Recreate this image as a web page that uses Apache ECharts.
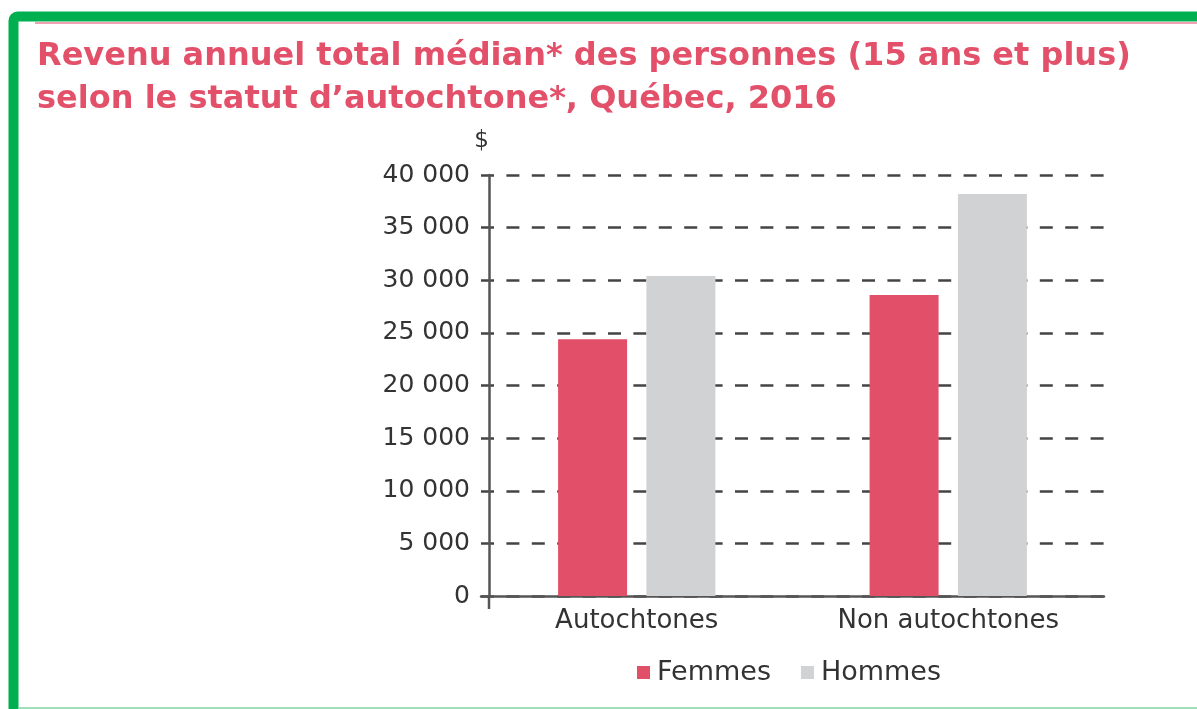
<!DOCTYPE html>
<html>
<head>
<meta charset="utf-8">
<script src="https://cdn.jsdelivr.net/npm/echarts@6/dist/echarts.min.js"></script>
<style>
html,body{margin:0;padding:0;background:#fff;}
#chart{width:1197px;height:709px;}
</style>
</head>
<body>
<div id="chart"></div>
<script>
const titleLines = ["Revenu annuel total médian* des personnes (15 ans et plus)", "selon le statut d\u2019autochtone*, Québec, 2016"];
const categories = ["Autochtones", "Non autochtones"];
const seriesNames = ["Femmes", "Hommes"];
const femmes = [24400, 28600];
const hommes = [30400, 38200];
const yTicks = [0, 5000, 10000, 15000, 20000, 25000, 30000, 35000, 40000];
const yUnit = "$";

const FONT = "'DejaVu Sans', sans-serif";
const chart = echarts.init(document.getElementById('chart'), null, {renderer: 'canvas'});

function fmt(v){ return String(v).replace(/\B(?=(\d{3})+(?!\d))/g, ' '); }

const option = {
  backgroundColor: '#ffffff',
  animation: false,
  title: {
    text: titleLines.join('\n'),
    left: 32, top: 30,
    textStyle: {color: '#e2506a', fontFamily: FONT, fontSize: 32, fontWeight: 'bold', lineHeight: 43}
  },
  graphic: [
    {type: 'rect', shape: {x: 13.5, y: 16.5, width: 1300, height: 900, r: 4}, style: {fill: 'none', stroke: '#00b050', lineWidth: 10}, z: 100},
    {type: 'line', shape: {x1: 35, y1: 23, x2: 1197, y2: 23}, style: {stroke: '#f0a0b0', lineWidth: 2}, z: 100},
    {type: 'line', shape: {x1: 19, y1: 708, x2: 1197, y2: 708}, style: {stroke: '#9fe0b8', lineWidth: 2}, z: 100}
  ],
  legend: {
    data: seriesNames,
    top: 654, left: 632,
    icon: 'rect', itemWidth: 13, itemHeight: 13, itemGap: 30,
    textStyle: {fontFamily: FONT, fontSize: 27, color: '#333', padding: [0, 0, 0, 2]}
  },
  grid: {left: 481, right: 93, top: 175, bottom: 113, containLabel: false},
  xAxis: {
    type: 'category',
    data: categories,
    axisLine: {lineStyle: {color: '#555', width: 2.5}},
    axisTick: {show: false},
    axisLabel: {fontFamily: FONT, fontSize: 26, color: '#333', margin: 12}
  },
  yAxis: {
    type: 'value',
    min: 0, max: 40000, interval: 5000,
    offset: -8,
    name: yUnit,
    nameLocation: 'end',
    nameGap: 22,
    nameTextStyle: {fontFamily: FONT, fontSize: 23, color: '#333', align: 'right', padding: [0, 0, 0, 0]},
    axisLine: {show: true, lineStyle: {color: '#555', width: 2.5}},
    axisTick: {show: false},
    axisLabel: {fontFamily: FONT, fontSize: 25, color: '#333', margin: 19,
      formatter: function(v){ return yTicks.indexOf(v) >= 0 ? fmt(v) : ''; }},
    splitLine: {show: true, lineStyle: {color: '#444', width: 2.5, type: [13, 12.4]}}
  },
  series: [
    {name: seriesNames[0], type: 'bar', data: femmes, barWidth: 69, barGap: '28%',
     itemStyle: {color: '#e24f69'}},
    {name: seriesNames[1], type: 'bar', data: hommes, barWidth: 69,
     itemStyle: {color: '#d1d2d4'}}
  ]
};
chart.setOption(option);

// short extension of the y axis line below zero, positioned from the axis scale
const p0 = chart.convertToPixel({gridIndex: 0}, [0, 0]);
const gridRect = chart.getModel().getComponent('grid', 0).coordinateSystem.getRect();
const axisX = gridRect.x + 8;
chart.setOption({graphic: option.graphic.concat([
  {type: 'line', shape: {x1: axisX, y1: p0[1], x2: axisX, y2: p0[1] + 13}, style: {stroke: '#555', lineWidth: 2.5}}
])});
</script>
</body>
</html>
